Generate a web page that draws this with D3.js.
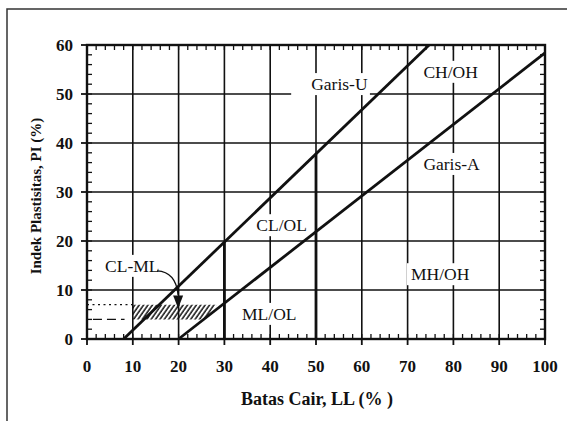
<!DOCTYPE html>
<html>
<head>
<meta charset="utf-8">
<script src="https://cdn.jsdelivr.net/npm/d3@7"></script>
<style>
  html, body { margin: 0; padding: 0; background: #fff; }
  svg { display: block; }
  text { font-family: "Liberation Serif", "DejaVu Serif", serif; fill: #111; }
</style>
</head>
<body>
<svg id="chart" width="567" height="421"></svg>
<script>
// ---- data ----
const xTicks = [0, 10, 20, 30, 40, 50, 60, 70, 80, 90, 100];
const yTicks = [0, 10, 20, 30, 40, 50, 60];
const xGrid = [10, 20, 30, 40, 50, 60, 70, 80, 90];
const yGrid = [10, 20, 30, 40, 50];
const xTitle = "Batas Cair, LL (% )";
const yTitle = "Indek Plastisitas, PI (%)";

// U-line and A-line end points (LL, PI)
const uLineLL = [8, 74.7];
const uLinePI = [0, 60];
const aLineLL = [20, 100];
const aLinePI = [0, 58.4];

// bold vertical boundaries: LL value and PI where they meet the U-line
const boldLL = [30, 50];
const boldTopPI = [19.8, 37.8];

// CL-ML hatched zone (LL, PI)
const hatchLL = [10, 10, 28.4, 25.6];
const hatchPI = [4, 7, 7, 4];
// dotted and dashed guide lines at PI 7 and PI 4
const dottedLL = [0, 10], dottedPI = 7;
const dashedLL = [1.3, 8.2], dashedPI = 4;

// zone labels
const labelText = ["Garis-U", "CH/OH", "Garis-A", "CL/OL", "ML/OL", "MH/OH", "CL-ML"];
const labelLL   = [55.1, 79.4, 79.6, 42.5, 39.8, 77.1, 9.9];
const labelPI   = [50.8, 53.3, 34.5, 22.0, 3.9, 12.0, 13.7];

// CL-ML arrow (LL, PI): start, control, end; head tip
const arrowLL = [15.3, 19.4, 19.9];
const arrowPI = [13.9, 13.7, 9.0];
const arrowTip = [19.9, 6.2];

// ---- drawing ----
const svg = d3.select("#chart");
const x = d3.scaleLinear().domain([0, 100]).range([87, 545]);
const y = d3.scaleLinear().domain([0, 60]).range([339, 45]);
const ink = "#111";

// outer frame
svg.append("path").attr("d", "M7,421 V9 H567")
  .attr("fill", "none").attr("stroke", "#333").attr("stroke-width", 1.5);

// hatch pattern
const defs = svg.append("defs");
defs.append("pattern").attr("id", "hatch").attr("patternUnits", "userSpaceOnUse")
  .attr("width", 3.6).attr("height", 10).attr("patternTransform", "rotate(35)")
  .append("line").attr("x1", 1).attr("y1", 0).attr("x2", 1).attr("y2", 10)
  .attr("stroke", ink).attr("stroke-width", 1.5);

// gridlines
const g = svg.append("g");
g.selectAll(".vg").data(xGrid).join("line")
  .attr("x1", d => x(d)).attr("x2", d => x(d)).attr("y1", y(0)).attr("y2", y(60))
  .attr("stroke", ink).attr("stroke-width", 1.6);
g.selectAll(".hg").data(yGrid).join("line")
  .attr("x1", x(0)).attr("x2", x(100)).attr("y1", d => y(d)).attr("y2", d => y(d))
  .attr("stroke", ink).attr("stroke-width", 1.6);

// hatched zone
svg.append("polygon")
  .attr("points", hatchLL.map((v, i) => [x(v), y(hatchPI[i])].join(",")).join(" "))
  .attr("fill", "url(#hatch)");

// dotted / dashed guides
svg.append("line").attr("x1", x(dottedLL[0])).attr("x2", x(dottedLL[1]))
  .attr("y1", y(dottedPI)).attr("y2", y(dottedPI))
  .attr("stroke", ink).attr("stroke-width", 1.3).attr("stroke-dasharray", "2,3.5");
svg.append("line").attr("x1", x(dashedLL[0])).attr("x2", x(dashedLL[1]))
  .attr("y1", y(dashedPI)).attr("y2", y(dashedPI))
  .attr("stroke", ink).attr("stroke-width", 1.4).attr("stroke-dasharray", "9,5");

// label backgrounds + labels
const lab = svg.append("g");
labelText.forEach((t, i) => {
  const gg = lab.append("g");
  const r = gg.append("rect").attr("fill", "#fff");
  const tx = gg.append("text").attr("x", x(labelLL[i])).attr("y", y(labelPI[i]))
    .attr("text-anchor", "middle").attr("font-size", 17.5).text(t);
  const b = tx.node().getBBox();
  const padL = t === "Garis-U" ? 20 : 4;
  r.attr("x", b.x - padL).attr("y", b.y - 1).attr("width", b.width + padL + 2).attr("height", b.height + 2);
});

// U-line and A-line
const line = d3.line().x(d => x(d[0])).y(d => y(d[1]));
svg.append("path").attr("d", line(uLineLL.map((v, i) => [v, uLinePI[i]])))
  .attr("fill", "none").attr("stroke", ink).attr("stroke-width", 2.8);
svg.append("path").attr("d", line(aLineLL.map((v, i) => [v, aLinePI[i]])))
  .attr("fill", "none").attr("stroke", ink).attr("stroke-width", 2.8);

// bold verticals
svg.selectAll(".bv").data(boldLL).join("line")
  .attr("x1", d => x(d)).attr("x2", d => x(d))
  .attr("y1", y(0)).attr("y2", (d, i) => y(boldTopPI[i]))
  .attr("stroke", ink).attr("stroke-width", 2.8);

// arrow
const ap = d3.path();
ap.moveTo(x(arrowLL[0]), y(arrowPI[0]));
ap.quadraticCurveTo(x(arrowLL[1]), y(arrowPI[1]), x(arrowLL[2]), y(arrowPI[2]));
svg.append("path").attr("d", ap.toString()).attr("fill", "none")
  .attr("stroke", ink).attr("stroke-width", 1.4);
const tipX = x(arrowTip[0]), tipY = y(arrowTip[1]);
svg.append("path")
  .attr("d", `M${tipX},${tipY} L${tipX - 5},${tipY - 13} L${tipX + 5},${tipY - 13} Z`)
  .attr("fill", ink);

// axes with minor ticks
const minor = d3.range(0, 101, 2);
const minorY = d3.range(0, 61, 2);
const ax = svg.append("g").attr("stroke", ink);
// frame of plot
ax.append("rect").attr("x", x(0)).attr("y", y(60)).attr("width", x(100) - x(0)).attr("height", y(0) - y(60))
  .attr("fill", "none").attr("stroke-width", 2.4);
// minor ticks bottom & top
ax.selectAll(".mb").data(minor).join("line")
  .attr("x1", d => x(d)).attr("x2", d => x(d)).attr("y1", y(0)).attr("y2", y(0) - 5).attr("stroke-width", 1.3);
ax.selectAll(".mt").data(minor).join("line")
  .attr("x1", d => x(d)).attr("x2", d => x(d)).attr("y1", y(60)).attr("y2", y(60) + 5).attr("stroke-width", 1.3);
ax.selectAll(".ml").data(minorY).join("line")
  .attr("y1", d => y(d)).attr("y2", d => y(d)).attr("x1", x(0)).attr("x2", x(0) + 5).attr("stroke-width", 1.3);
ax.selectAll(".mr").data(minorY).join("line")
  .attr("y1", d => y(d)).attr("y2", d => y(d)).attr("x1", x(100)).attr("x2", x(100) - 5).attr("stroke-width", 1.3);
// major ticks outward
ax.selectAll(".Mb").data(xTicks).join("line")
  .attr("x1", d => x(d)).attr("x2", d => x(d)).attr("y1", y(0)).attr("y2", y(0) + 6).attr("stroke-width", 1.8);
ax.selectAll(".Ml").data(yTicks).join("line")
  .attr("y1", d => y(d)).attr("y2", d => y(d)).attr("x1", x(0)).attr("x2", x(0) - 6).attr("stroke-width", 1.8);

// tick labels
svg.append("g").selectAll("text").data(xTicks).join("text")
  .attr("x", d => x(d)).attr("y", 372).attr("text-anchor", "middle")
  .attr("font-size", 17).attr("font-weight", "bold").text(d => d);
svg.append("g").selectAll("text").data(yTicks).join("text")
  .attr("x", 73).attr("y", d => y(d) + 6).attr("text-anchor", "end")
  .attr("font-size", 17).attr("font-weight", "bold").text(d => d);

// titles
svg.append("text").attr("x", 317).attr("y", 405).attr("text-anchor", "middle")
  .attr("font-size", 18).attr("font-weight", "bold").text(xTitle);
svg.append("text").attr("transform", "translate(41,196) rotate(-90)").attr("text-anchor", "middle")
  .attr("font-size", 15).attr("font-weight", "bold").text(yTitle);
</script>
</body>
</html>
